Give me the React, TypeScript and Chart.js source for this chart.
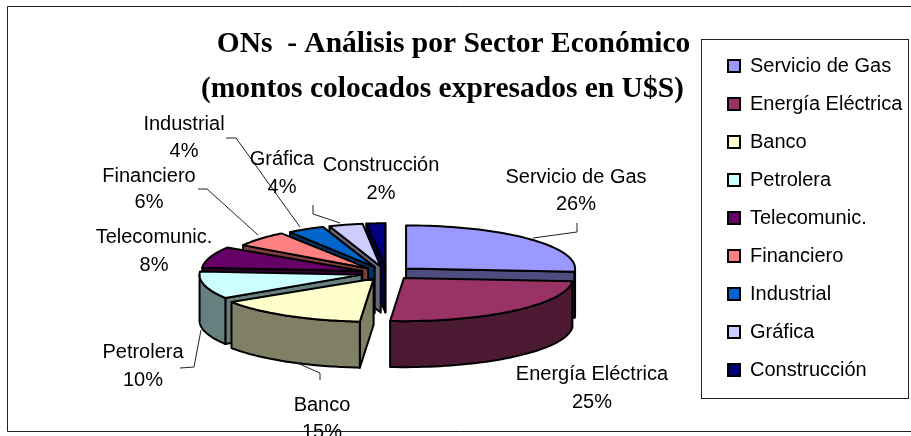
import React, { useEffect, useRef } from "react";
import { Chart, registerables } from "chart.js";

Chart.register(...registerables);

const categories = ["Servicio de Gas", "Energía Eléctrica", "Banco", "Petrolera", "Telecomunic.", "Financiero", "Industrial", "Gráfica", "Construcción"];
const shares = [26.2, 25.1, 14.6, 10.3, 7.9, 6.0, 4.1, 3.8, 2.0];
const topColors = ["#9999FF", "#993366", "#FFFFCC", "#CCFFFF", "#660066", "#FF8080", "#0066CC", "#CCCCFF", "#000080"];
const sideColors = ["#4D4D80", "#4D1A33", "#808066", "#668080", "#330033", "#804040", "#003366", "#666680", "#000040"];
const titleLines = ["ONs  - Análisis por Sector Económico", "(montos colocados expresados en U$S)   "];

const FONT = "'Liberation Sans', Arial, sans-serif";
const LABEL_SIZE = 20;
const TILT = 0.255;
const DEPTH = 46;
const EXPLODE = 26;
const widthFactor = [1, 1, 1, 0.96, 0.95, 0.88, 0.86, 0.85, 0.9];
const labelSpots = [
  [576, 177, 204], [592, 374, 402], [322, 405, 432], [143, 352, 380], [154, 237, 265],
  [149, 176, 202], [184, 124, 151], [282, 159, 187], [381, 165, 193],
];
const leaderLines = [
  [[533, 238], [577, 232], [577, 223]],
  [],
  [[297, 363], [320, 373], [320, 380]],
  [[201, 330], [194, 367], [180, 368]],
  [],
  [[258, 235], [207, 189], [198, 189]],
  [[300, 227], [236, 138], [226, 138]],
  [[340, 223], [313, 214], [313, 205]],
  [],
];

const pie3d = {
  id: "pie3d",
  afterLayout(chart: any) {
    chart.chartArea = { left: 0, top: 110, right: 774, bottom: 436, width: 774, height: 326 };
    const t = chart.titleBlock;
    if (t) { t.left = 30; t.right = 877; t.top = 22; t.bottom = 110; t.width = 847; t.height = 88; }
    const l = chart.legend;
    if (l) { l.left = 710; l.right = 905; l.top = 38; l.bottom = 398; l.width = 195; l.height = 360; }
  },
  beforeDraw(chart: any) {
    const { ctx } = chart;
    ctx.save();
    ctx.fillStyle = "#fff";
    ctx.fillRect(0, 0, 911, 436);
    ctx.strokeStyle = "#222";
    ctx.lineWidth = 1;
    ctx.beginPath();
    ctx.moveTo(911, 6.5); ctx.lineTo(7.5, 6.5); ctx.lineTo(7.5, 431.5); ctx.lineTo(911, 431.5);
    ctx.stroke();
    ctx.strokeRect(701.5, 39.5, 207, 359);
    ctx.restore();
  },
  beforeDatasetsDraw(chart: any) {
    const { ctx } = chart;
    const arcs: any[] = chart.getDatasetMeta(0).data;
    const order = arcs.map((_, i) => i).sort((a, b) =>
      Math.sin((arcs[a].startAngle + arcs[a].endAngle) / 2) - Math.sin((arcs[b].startAngle + arcs[b].endAngle) / 2));
    order.forEach((i) => {
      const arc = arcs[i];
      const R = arc.outerRadius, s = arc.startAngle, e = arc.endAngle;
      const half = (s + e) / 2;
      const ax = arc.x + Math.cos(half) * EXPLODE;
      const ay = arc.y + Math.sin(half) * EXPLODE * TILT;
      const sx = widthFactor[i];
      const pt = (a: number, d = 0): [number, number] => [ax + Math.cos(a) * R * sx, ay + Math.sin(a) * R * TILT + d];
      ctx.save();
      ctx.lineWidth = 2;
      ctx.lineJoin = "round";
      ctx.strokeStyle = "#000";
      ctx.fillStyle = sideColors[i];
      const quad = (a: number) => {
        const p = pt(a);
        ctx.beginPath();
        ctx.moveTo(ax, ay); ctx.lineTo(p[0], p[1]); ctx.lineTo(p[0], p[1] + DEPTH); ctx.lineTo(ax, ay + DEPTH);
        ctx.closePath(); ctx.fill(); ctx.stroke();
      };
      if (Math.cos(e) > 0) quad(e);
      if (Math.cos(s) < 0) quad(s);
      // outer rim: only the part that faces the viewer
      const from = [s, s + Math.PI * 2, s - Math.PI * 2].find((v) => v <= Math.PI && v + (e - s) >= 0);
      if (from !== undefined) {
        const a0 = Math.max(from, 0), a1 = Math.min(from + (e - s), Math.PI);
        if (a1 > a0) {
          ctx.beginPath();
          for (let k = 0; k <= 48; k++) { const p = pt(a0 + (a1 - a0) * k / 48); k ? ctx.lineTo(p[0], p[1]) : ctx.moveTo(p[0], p[1]); }
          for (let k = 48; k >= 0; k--) { const p = pt(a0 + (a1 - a0) * k / 48, DEPTH); ctx.lineTo(p[0], p[1]); }
          ctx.closePath(); ctx.fill(); ctx.stroke();
        }
      }
      // top face, drawn by the library's own arc element
      ctx.save();
      ctx.translate(ax, ay);
      ctx.scale(sx, TILT);
      ctx.translate(-arc.x, -arc.y);
      arc.draw(ctx);
      ctx.restore();
      ctx.beginPath();
      ctx.moveTo(ax, ay);
      for (let k = 0; k <= 48; k++) { const p = pt(s + (e - s) * k / 48); ctx.lineTo(p[0], p[1]); }
      ctx.closePath();
      ctx.stroke();
      ctx.restore();
    });
    return false;
  },
  afterDraw(chart: any) {
    const { ctx } = chart;
    const total = shares.reduce((a, b) => a + b, 0);
    ctx.save();
    ctx.strokeStyle = "#222";
    ctx.lineWidth = 1;
    leaderLines.forEach((line) => {
      if (!line.length) return;
      ctx.beginPath();
      line.forEach((p, k) => (k ? ctx.lineTo(p[0], p[1]) : ctx.moveTo(p[0], p[1])));
      ctx.stroke();
    });
    ctx.fillStyle = "#000";
    ctx.font = `${LABEL_SIZE}px ${FONT}`;
    ctx.textAlign = "center";
    ctx.textBaseline = "middle";
    categories.forEach((c, i) => {
      const [x, y1, y2] = labelSpots[i];
      ctx.fillText(c, x, y1);
      ctx.fillText(`${Math.round((shares[i] / total) * 100)}%`, x, y2);
    });
    ctx.restore();
  },
};

export default function App() {
  const ref = useRef<HTMLCanvasElement>(null);
  useEffect(() => {
    const chart = new Chart(ref.current as HTMLCanvasElement, {
      type: "pie",
      data: {
        labels: categories,
        datasets: [{ data: shares, backgroundColor: topColors, borderWidth: 0, radius: 169 }],
      },
      options: {
        animation: false,
        responsive: false,
        events: [],
        plugins: {
          tooltip: { enabled: false },
          title: {
            display: true,
            text: titleLines,
            color: "#000",
            padding: 0,
            font: { family: "'Liberation Serif', serif", size: 29.5, weight: "bold", lineHeight: 1.525 },
          },
          legend: {
            display: true,
            position: "right",
            align: "start",
            labels: {
              font: { family: FONT, size: LABEL_SIZE },
              color: "#000",
              boxWidth: 12,
              boxHeight: 12,
              padding: 18,
              generateLabels: () =>
                categories.map((text, index) => ({
                  text, index, hidden: false, fillStyle: topColors[index], strokeStyle: "#000", lineWidth: 2, fontColor: "#000",
                })),
            },
          },
        },
      },
      plugins: [pie3d],
    } as any);
    return () => chart.destroy();
  }, []);
  return (
    <div style={{ position: "absolute", left: 0, top: 0, width: 911, height: 436, overflow: "hidden" }}>
      <canvas ref={ref} width={911} height={436} style={{ display: "block" }} />
    </div>
  );
}
